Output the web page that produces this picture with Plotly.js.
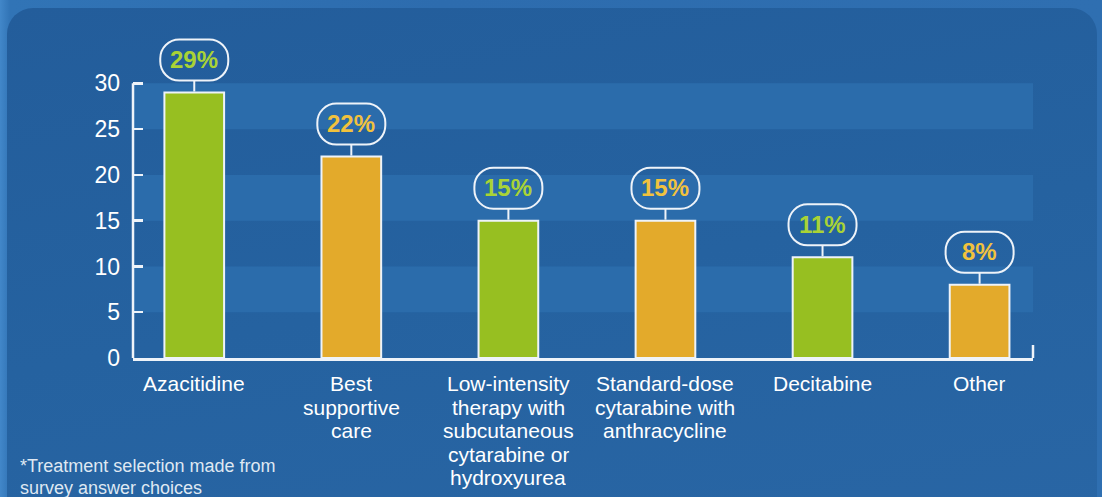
<!DOCTYPE html>
<html>
<head>
<meta charset="utf-8">
<script src="https://cdn.plot.ly/plotly-3.0.1.min.js"></script>
<style>
  html, body { margin: 0; padding: 0; }
  #wrap { position: relative; width: 1102px; height: 497px; overflow: hidden;
          background: linear-gradient(90deg, #4287c9 0px, #3174b6 10px, #2d6cae 40%, #2f6fb1 100%); }
  #panel { position: absolute; left: 7px; top: 8px; width: 1090px; height: 540px; border-radius: 26px;
           background: linear-gradient(170deg, #235d9b 0%, #2562a0 50%, #2966a5 100%); }
  #chart { position: absolute; left: 0; top: 0; width: 1102px; height: 497px; }
</style>
</head>
<body>
<div id="wrap"><div id="panel"></div><div id="chart"></div></div>
<script>
// ---- data ----
const categories = [
  'Azacitidine',
  'Best supportive care',
  'Low-intensity therapy with subcutaneous cytarabine or hydroxyurea',
  'Standard-dose cytarabine with anthracycline',
  'Decitabine',
  'Other'
];
const categoryLabelLines = [
  ['Azacitidine'],
  ['Best', 'supportive', 'care'],
  ['Low-intensity', 'therapy with', 'subcutaneous', 'cytarabine or', 'hydroxyurea'],
  ['Standard-dose', 'cytarabine with', 'anthracycline'],
  ['Decitabine'],
  ['Other']
];
const values = [29, 22, 15, 15, 11, 8];
const valueLabels = ['29%', '22%', '15%', '15%', '11%', '8%'];
const yTickValues = [0, 5, 10, 15, 20, 25, 30];
const yTickLabels = ['0', '5', '10', '15', '20', '25', '30'];
const footnoteLines = ['*Treatment selection made from', 'survey answer choices'];

// ---- styles ----
const barColors = ['#97bf21', '#e3aa2b', '#97bf21', '#e3aa2b', '#97bf21', '#e3aa2b'];
const labelColors = ['#a9d335', '#f1c23d', '#a9d335', '#f1c23d', '#a9d335', '#f1c23d'];
const white = '#eef3f9';
const bandColor = '#2b6cab';
const FONT = '"Liberation Sans", Arial, sans-serif';
const yMax = Math.max(...yTickValues);

const trace = {
  type: 'bar',
  x: categories,
  y: values,
  width: 0.38,
  marker: { color: barColors, line: { color: white, width: 2 } },
  hoverinfo: 'none',
  cliponaxis: false
};

const shapes = [];
// alternating background bands
for (let i = 0; i < yTickValues.length - 1; i++) {
  if (i % 2 === 1) {
    shapes.push({ type: 'rect', layer: 'below', xref: 'paper', yref: 'y',
      x0: 0, x1: 1, y0: yTickValues[i], y1: yTickValues[i + 1],
      fillcolor: bandColor, line: { width: 0 } });
  }
}
// y axis line (only up to the top tick)
shapes.push({ type: 'line', xref: 'paper', yref: 'y', x0: 0, x1: 0, y0: 0, y1: yMax,
  line: { color: white, width: 2.5 } });
// x axis end tick
shapes.push({ type: 'line', xref: 'paper', yref: 'y', ysizemode: 'pixel', yanchor: 0,
  x0: 1, x1: 1, y0: 0, y1: 13, line: { color: white, width: 2.5 } });

const pill = 'M -15 12 L 15 12 C 25.5 12 34 20.5 34 31 L 34 34 C 34 44.5 25.5 53 15 53 ' +
             'L -15 53 C -25.5 53 -34 44.5 -34 34 L -34 31 C -34 20.5 -25.5 12 -15 12 Z';

const annotations = [];
values.forEach((v, i) => {
  shapes.push({ type: 'line', xref: 'x', yref: 'y', xsizemode: 'pixel', ysizemode: 'pixel',
    xanchor: i, yanchor: v, x0: 0, x1: 0, y0: 1, y1: 12, line: { color: white, width: 2 } });
  shapes.push({ type: 'path', xref: 'x', yref: 'y', xsizemode: 'pixel', ysizemode: 'pixel',
    xanchor: i, yanchor: v, path: pill, line: { color: white, width: 2 } });
  annotations.push({ x: i, y: v, xref: 'x', yref: 'y', text: '<b>' + valueLabels[i] + '</b>',
    showarrow: false, yanchor: 'middle', yshift: 33,
    font: { family: FONT, size: 24, color: labelColors[i] } });
});

categoryLabelLines.forEach((lines, i) => {
  lines.forEach((line, j) => {
    annotations.push({ x: i, y: 0, xref: 'x', yref: 'y', text: line, showarrow: false,
      yanchor: 'top', yshift: -13 - j * 23.6, height: 23, borderpad: 0,
      font: { family: FONT, size: 21, color: '#ffffff' } });
  });
});

footnoteLines.forEach((line, j) => {
  annotations.push({ xref: 'paper', yref: 'paper', x: -0.127, y: 0, xanchor: 'left', yanchor: 'top',
    yshift: -96 - j * 21.5, height: 21, borderpad: 0, align: 'left', text: line, showarrow: false,
    font: { family: FONT, size: 18, color: '#dfe8f2' } });
});

const layout = {
  width: 1102, height: 497,
  margin: { l: 133, r: 69, t: 33, b: 139, pad: 0 },
  paper_bgcolor: 'rgba(0,0,0,0)',
  plot_bgcolor: 'rgba(0,0,0,0)',
  showlegend: false,
  xaxis: { type: 'category', range: [-0.39, 5.34], showticklabels: false, ticks: '',
    showgrid: false, zeroline: false, showline: true, linecolor: white, linewidth: 2.5, fixedrange: true },
  yaxis: { range: [0, 35.5], tickmode: 'array', tickvals: yTickValues, ticktext: yTickLabels,
    ticks: 'inside', ticklen: 10, tickwidth: 2.5, tickcolor: white, ticklabelstandoff: 12,
    showgrid: false, zeroline: false, showline: false,
    tickfont: { family: FONT, size: 23, color: '#ffffff' }, fixedrange: true },
  shapes: shapes,
  annotations: annotations
};

Plotly.newPlot('chart', [trace], layout, { displayModeBar: false, staticPlot: true });
</script>
</body>
</html>
